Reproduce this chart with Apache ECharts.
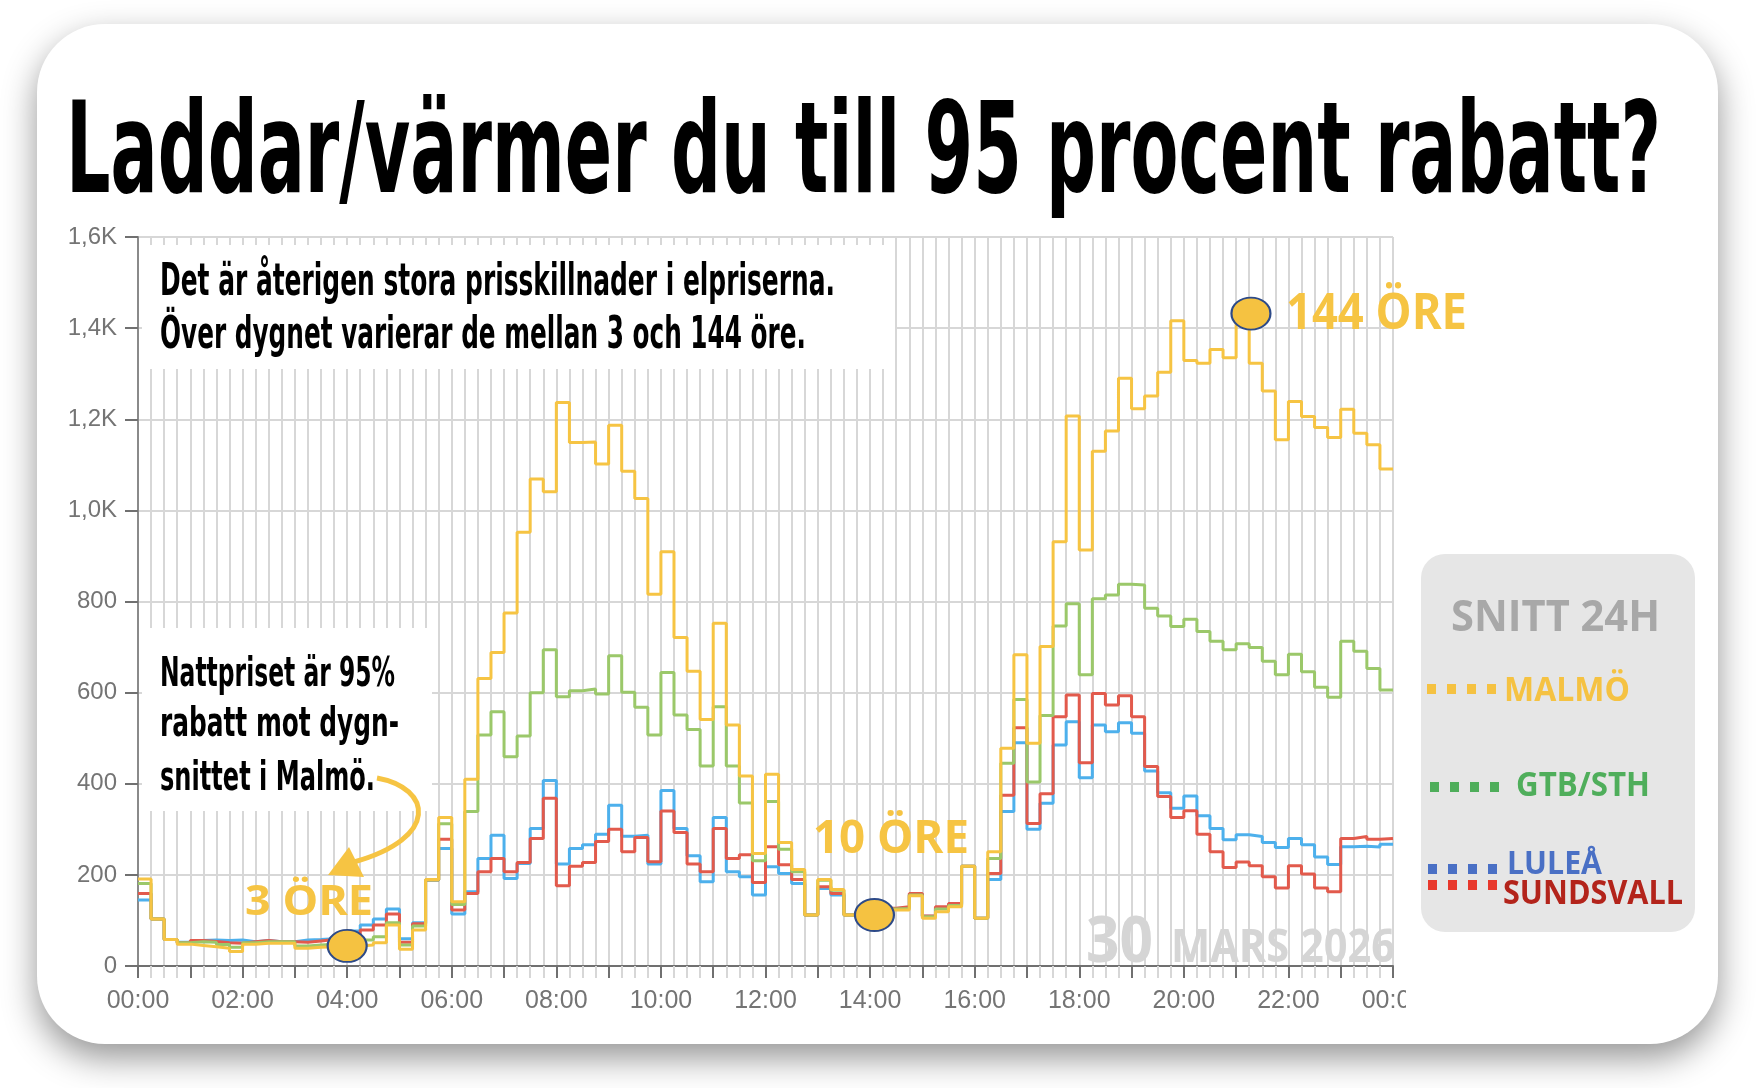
<!DOCTYPE html>
<html>
<head>
<meta charset="utf-8">
<title>Laddar/värmer du till 95 procent rabatt?</title>
<script src="https://cdn.jsdelivr.net/npm/echarts@6.0.0/dist/echarts.min.js"></script>
<style>
  html, body { margin: 0; padding: 0; background: #fff; }
  #chart { width: 1760px; height: 1088px; }
</style>
</head>
<body>
<div id="chart"></div>
<script>
// spot prices per quarter hour, 30 mars 2026 (SEK/MWh, 10 = 1 öre/kWh)
const malmo = [
  191, 103, 58, 48, 45, 42, 39, 32, 48, 50, 50, 50, 39, 41, 42, 40, 44, 46, 51, 90, 37, 79, 190, 326,
  141, 410, 631, 688, 775, 952, 1069, 1041, 1237, 1149, 1150, 1102, 1187, 1086, 1026, 816, 909, 721, 647, 541, 752, 529, 417, 247,
  421, 271, 212, 112, 190, 168, 112, 112, 118, 123, 123, 154, 105, 119, 130, 219, 105, 251, 478, 683, 489, 701, 931, 1207,
  913, 1130, 1174, 1290, 1223, 1251, 1303, 1416, 1329, 1323, 1353, 1335, 1440, 1323, 1262, 1155, 1239, 1206, 1182, 1160, 1222, 1169, 1144, 1091
];
const gtbSth = [
  181, 103, 58, 51, 53, 52, 47, 41, 51, 53, 53, 53, 44, 46, 48, 50, 57, 57, 64, 95, 46, 88, 189, 312,
  135, 339, 507, 558, 459, 505, 600, 694, 591, 604, 608, 597, 681, 601, 568, 507, 644, 551, 519, 439, 569, 439, 358, 231,
  361, 256, 207, 112, 188, 166, 112, 112, 120, 125, 126, 156, 108, 125, 133, 219, 105, 236, 445, 585, 404, 550, 746, 795,
  639, 806, 814, 838, 836, 785, 768, 745, 761, 734, 713, 694, 707, 699, 669, 639, 684, 646, 612, 590, 713, 691, 653, 606
];
const lulea = [
  145, 103, 58, 52, 56, 57, 56, 57, 53, 56, 53, 53, 57, 58, 60, 67, 77, 90, 103, 125, 60, 95, 189, 258,
  114, 163, 236, 287, 192, 225, 302, 407, 224, 258, 266, 289, 353, 285, 287, 224, 385, 302, 242, 185, 326, 207, 196, 156,
  218, 203, 181, 112, 170, 156, 112, 112, 122, 126, 128, 157, 109, 128, 135, 219, 105, 190, 339, 490, 300, 357, 485, 536,
  413, 529, 514, 534, 511, 428, 380, 346, 373, 330, 302, 277, 288, 284, 271, 260, 280, 266, 239, 223, 262, 263, 261, 267
];
const sundsvall = [
  159, 103, 58, 51, 56, 54, 51, 50, 53, 56, 53, 53, 52, 55, 58, 62, 66, 79, 90, 114, 52, 93, 189, 278,
  123, 159, 207, 236, 207, 227, 280, 368, 176, 219, 227, 273, 300, 251, 282, 229, 340, 293, 224, 207, 302, 236, 244, 183,
  262, 222, 190, 112, 174, 159, 112, 112, 122, 127, 130, 159, 110, 130, 137, 219, 105, 203, 375, 523, 313, 378, 547, 595,
  446, 598, 573, 593, 547, 438, 372, 326, 341, 289, 251, 216, 228, 220, 196, 171, 220, 202, 171, 163, 280, 284, 278, 280
];
// highlighted prices: [minute of day, SEK/MWh]
const highlights = [[240, 44], [845, 112], [1277, 1432]];

const YELLOW = '#f6c443';
const GREEN = '#9bc86a';
const BLUE = '#4db0ec';
const RED = '#e25a4c';
const GRIDC = '#d7d7d7';
const COND = "'Liberation Sans Narrow', 'DejaVu Sans Condensed', 'Liberation Sans', sans-serif";
const ROUND = "'Open Sans', 'Lato', sans-serif";

function stepData(values) {
  const d = values.map((v, i) => [i * 15, v]);
  d.push([1440, values[values.length - 1]]);
  return d;
}

function hhmm(v) {
  const h = Math.floor(v / 60) % 24;
  return (h < 10 ? '0' : '') + h + ':00';
}

// text fitted to a cap height and a width
const meas = document.createElement('canvas').getContext('2d');
function capText(text, left, baseline, width, capH, family, fill) {
  meas.textBaseline = 'alphabetic';
  meas.font = 'bold 100px ' + family;
  const size = 100 * capH / meas.measureText('H').actualBoundingBoxAscent;
  const font = 'bold ' + size.toFixed(1) + 'px ' + family;
  meas.font = font;
  const a = meas.measureText('H').actualBoundingBoxAscent;
  const w = meas.measureText(text).width;
  meas.textBaseline = 'middle';
  const b = meas.measureText('H').actualBoundingBoxAscent;
  meas.textBaseline = 'alphabetic';
  return {
    type: 'text', x: left, y: baseline - (a - b), scaleX: width / w, z: 20,
    style: { text: text, font: font, fill: fill, align: 'left', verticalAlign: 'middle' }
  };
}

function dots(x, y, color) {
  return {
    type: 'line', z: 20,
    shape: { x1: x, y1: y, x2: x + 70, y2: y },
    style: { stroke: color, lineWidth: 10, lineDash: [9, 11] }
  };
}

const chart = echarts.init(document.getElementById('chart'));

const lineSeries = (name, values, color) => ({
  name: name,
  type: 'line',
  step: 'end',
  data: stepData(values),
  showSymbol: false,
  symbol: 'none',
  lineStyle: { color: color, width: 3 },
  itemStyle: { color: color },
  emphasis: { disabled: true }
});

chart.setOption({
  animation: false,
  backgroundColor: '#ffffff',
  grid: { left: 138, top: 237, width: 1255, height: 729, outerBoundsMode: 'none' },
  xAxis: {
    type: 'value', min: 0, max: 1440, interval: 60,
    axisLine: { show: true, onZero: false, lineStyle: { color: '#707070', width: 2 } },
    axisTick: { show: true, length: 12, lineStyle: { color: '#707070', width: 2 } },
    minorTick: { show: true, splitNumber: 4, length: 12, lineStyle: { color: GRIDC, width: 2 } },
    splitLine: { show: true, lineStyle: { color: GRIDC, width: 2 } },
    minorSplitLine: { show: true, lineStyle: { color: GRIDC, width: 2 } },
    axisLabel: {
      margin: 23, color: '#747474', fontSize: 25, fontFamily: "'Liberation Sans', sans-serif",
      formatter: v => (v % 120 === 0 ? hhmm(v) : '')
    }
  },
  yAxis: {
    type: 'value', min: 0, max: 1600, interval: 200,
    axisLine: { show: true, lineStyle: { color: '#8a8a8a', width: 2 } },
    axisTick: { show: true, length: 13, lineStyle: { color: '#707070', width: 2 } },
    splitLine: { show: true, lineStyle: { color: GRIDC, width: 2 } },
    axisLabel: {
      margin: 21, color: '#747474', fontSize: 24, fontFamily: "'Liberation Sans', sans-serif",
      formatter: v => (v >= 1000 ? (v / 1000).toFixed(1).replace('.', ',') + 'K' : String(v))
    }
  },
  series: [
    lineSeries('Luleå', lulea, BLUE),
    lineSeries('Sundsvall', sundsvall, RED),
    lineSeries('Gtb/Sth', gtbSth, GREEN),
    lineSeries('Malmö', malmo, YELLOW),
    {
      type: 'scatter', data: highlights, symbol: 'circle', symbolSize: [39, 32], z: 6,
      itemStyle: { color: '#f5c241', borderColor: '#2d4a88', borderWidth: 2, opacity: 1 },
      emphasis: { disabled: true }
    }
  ],
  graphic: [
    // card with shadow
    {
      type: 'rect', z: -1, silent: true,
      shape: { x: 37, y: 24, width: 1681, height: 1020, r: 68 },
      style: { fill: '#ffffff', shadowBlur: 34, shadowOffsetY: 14, shadowColor: 'rgba(0,0,0,0.42)' }
    },
    capText('Laddar/värmer du till 95 procent rabatt?', 66, 192, 1595, 93, COND, '#000000'),

    // annotation boxes
    { type: 'rect', z: 1, shape: { x: 142, y: 245, width: 753, height: 124 }, style: { fill: '#ffffff' } },
    capText('Det är återigen stora prisskillnader i elpriserna.', 160, 295, 675, 32, COND, '#000000'),
    capText('Över dygnet varierar de mellan 3 och 144 öre.', 160, 348, 646, 32, COND, '#000000'),

    { type: 'rect', z: 1, shape: { x: 142, y: 628, width: 290, height: 183 }, style: { fill: '#ffffff' } },
    capText('Nattpriset är 95%', 160, 686, 235, 30, COND, '#000000'),
    capText('rabatt mot dygn-', 160, 736, 239, 30, COND, '#000000'),
    capText('snittet i Malmö.', 160, 790, 215, 30, COND, '#000000'),

    // arrow to the night price
    {
      type: 'bezierCurve', z: 20,
      shape: { x1: 377, y1: 778, cpx1: 432, cpy1: 788, cpx2: 440, cpy2: 838, x2: 354, y2: 862 },
      style: { stroke: YELLOW, lineWidth: 5, fill: null }
    },
    {
      type: 'polygon', z: 20,
      shape: { points: [[328, 875], [349, 847], [364, 877]] },
      style: { fill: YELLOW }
    },

    capText('3 ÖRE', 245, 915, 128, 30, ROUND, YELLOW),
    capText('10 ÖRE', 813, 853, 156, 33, ROUND, YELLOW),
    capText('144 ÖRE', 1286, 329, 181, 36, ROUND, YELLOW),

    capText('30', 1086, 962, 67, 46, ROUND, '#d5d5d5'),
    capText('MARS 2026', 1171, 962, 224, 34, ROUND, '#d5d5d5'),

    // last tick label is cut off by the chart edge
    { type: 'rect', z: 30, shape: { x: 1406, y: 984, width: 18, height: 40 }, style: { fill: '#ffffff' } },

    // legend box
    {
      type: 'rect', z: 10,
      shape: { x: 1421, y: 554, width: 274, height: 378, r: 24 },
      style: { fill: '#e6e6e6' }
    },
    capText('SNITT 24H', 1451, 631, 209, 31, ROUND, '#a8a8a8'),
    dots(1427, 689, '#f5c242'),
    capText('MALMÖ', 1504, 701, 126, 24, ROUND, '#f5c242'),
    dots(1430, 787, '#4fae5b'),
    capText('GTB/STH', 1516, 796, 134, 24, ROUND, '#4fae5b'),
    dots(1428, 869, '#4a70c5'),
    capText('LULEÅ', 1507, 874, 95, 23, ROUND, '#4a70c5'),
    dots(1428, 885, '#e8382c'),
    capText('SUNDSVALL', 1503, 904, 180, 24, ROUND, '#b3241b')
  ]
});
</script>
</body>
</html>
